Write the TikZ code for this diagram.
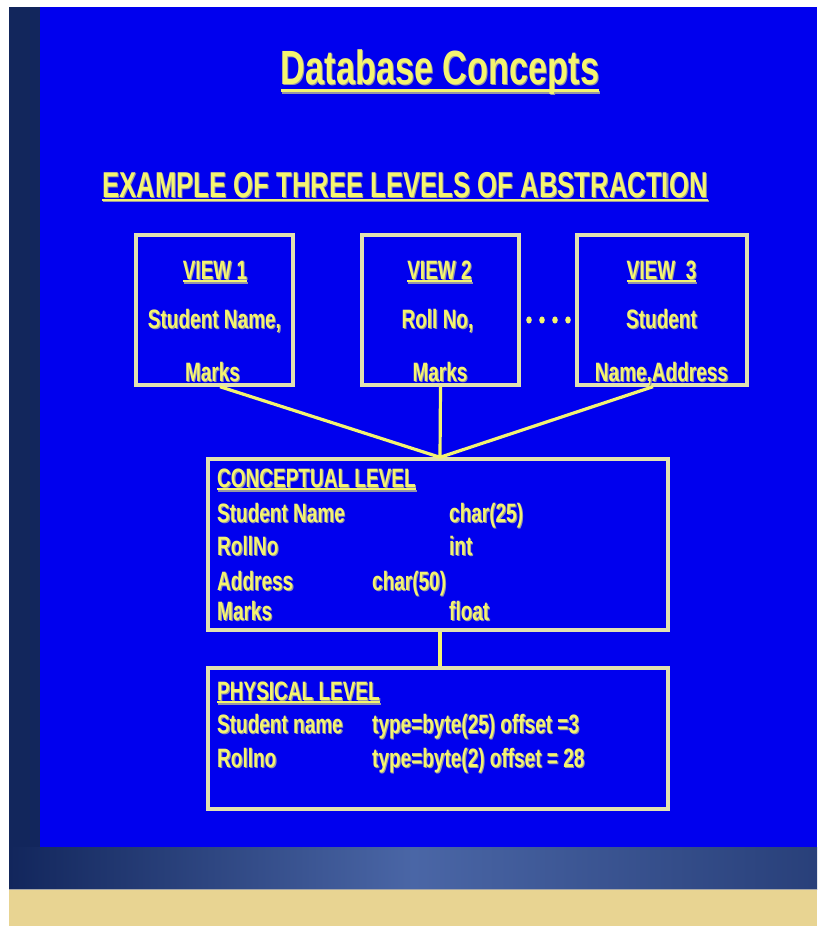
\documentclass[tikz,border=0pt]{standalone}
\usepackage{fontspec}
\setmainfont{Liberation Sans}
\usepackage{graphicx}

\definecolor{slide}{RGB}{0,0,238}
\definecolor{navy}{RGB}{18,38,92}
\definecolor{ink}{RGB}{244,244,112}
\definecolor{inkshade}{RGB}{150,150,165}
\definecolor{frame}{RGB}{226,226,176}
\definecolor{tan}{RGB}{232,212,146}
\definecolor{bandmid}{RGB}{74,102,166}

% slide text: stretched vertically, with a soft grey drop shadow
\newcommand{\tall}[1]{\scalebox{1}[1.4]{\rlap{\kern1.1pt\raisebox{-1.1pt}{\color{inkshade}#1}}#1}}
% underline: drop below baseline, rule thickness, text
\newsavebox{\ulbox}
\newcommand{\undl}[3]{\sbox{\ulbox}{#3}\rlap{\rule[-#1]{\wd\ulbox}{#2}}\usebox{\ulbox}}

\tikzset{
  txt/.style={text=ink, inner sep=0pt, font=\bfseries\fontsize{19}{22}\selectfont},
  lbox/.style={draw=frame, line width=3.4pt, inner sep=0pt},
  link/.style={draw=ink, line width=3.2pt},
  dot/.style={fill=ink, draw=none},
}

\begin{document}
\begin{tikzpicture}[x=1pt,y=-1pt]
  \useasboundingbox (0,0) rectangle (817,926);
  \fill[white] (0,0) rectangle (817,926);

  % slide background
  \fill[navy] (9,7) rectangle (40,889);
  \fill[slide] (40,7) rectangle (817,847);
  \shade[left color=navy, right color=navy!60!bandmid, middle color=bandmid]
    (9,847) rectangle (817,889);
  \fill[tan] (9,889) rectangle (817,926);
  \draw[gray!70, line width=1pt] (9,889) -- (817,889);

  % headings
  \node[txt, anchor=base, font=\bfseries\fontsize{34.3}{40}\selectfont] (title) at (440,84)
    {\tall{\undl{5.7pt}{1.8pt}{Database Concepts}}};
  \node[txt, anchor=base west, font=\bfseries\fontsize{25.7}{30}\selectfont] (sub) at (102,197)
    {\tall{\undl{2.6pt}{1.5pt}{EXAMPLE OF THREE LEVELS OF ABSTRACTION}}};

  % view boxes
  \node[lbox, minimum width=157pt, minimum height=150pt] (v1) at (214.5,310) {};
  \node[lbox, minimum width=157pt, minimum height=150pt] (v2) at (440.5,310) {};
  \node[lbox, minimum width=170pt, minimum height=150pt] (v3) at (662,310) {};

  \node[txt, anchor=base] (v1a) at (215,279) {\tall{\undl{2.2pt}{1.2pt}{VIEW 1}}};
  \node[txt, anchor=base] (v1b) at (214.5,328) {\tall{Student Name,}};
  \node[txt, anchor=base] (v1c) at (212.5,381) {\tall{Marks}};

  \node[txt, anchor=base] (v2a) at (439.5,279) {\tall{\undl{2.2pt}{1.2pt}{VIEW 2}}};
  \node[txt, anchor=base] (v2b) at (437.5,328) {\tall{Roll No,}};
  \node[txt, anchor=base] (v2c) at (440,381) {\tall{Marks}};

  \node[txt, anchor=base] (v3a) at (661.5,279) {\tall{\undl{2.2pt}{1.2pt}{VIEW\ \ 3}}};
  \node[txt, anchor=base] (v3b) at (661.5,328) {\tall{Student}};
  \node[txt, anchor=base] (v3c) at (661.5,381) {\tall{Name,Address}};

  % ellipsis between the second and third view
  \foreach \dx in {529,542,555,568}
    \fill[dot] (\dx,320) ellipse (2.8pt and 3.6pt);

  % conceptual level
  \node[lbox, minimum width=460pt, minimum height=171pt] (cl) at (438,544.5) {};
  \node[txt, anchor=base west] (clh) at (217,487) {\tall{\undl{2.2pt}{1.2pt}{CONCEPTUAL LEVEL}}};
  \node[txt, anchor=base west] (c1) at (217,522) {\tall{Student Name}};
  \node[txt, anchor=base west] (c1t) at (449,522) {\tall{char(25)}};
  \node[txt, anchor=base west] (c2) at (217,555) {\tall{RollNo}};
  \node[txt, anchor=base west] (c2t) at (449,555) {\tall{int}};
  \node[txt, anchor=base west] (c3) at (217,590) {\tall{Address}};
  \node[txt, anchor=base west] (c3t) at (372,590) {\tall{char(50)}};
  \node[txt, anchor=base west] (c4) at (217,620) {\tall{Marks}};
  \node[txt, anchor=base west] (c4t) at (449,620) {\tall{float}};

  % physical level
  \node[lbox, minimum width=460pt, minimum height=141pt] (pl) at (438,738.5) {};
  \node[txt, anchor=base west] (plh) at (217,700) {\tall{\undl{2.2pt}{1.2pt}{PHYSICAL LEVEL}}};
  \node[txt, anchor=base west] (p1) at (217,733) {\tall{Student name}};
  \node[txt, anchor=base west] (p1t) at (372,733) {\tall{type=byte(25) offset =3}};
  \node[txt, anchor=base west] (p2) at (217,767) {\tall{Rollno}};
  \node[txt, anchor=base west] (p2t) at (372,767) {\tall{type=byte(2) offset = 28}};

  % connectors
  \coordinate (hub) at ([xshift=2pt]cl.north);
  \draw[link] ([xshift=5.5pt]v1.south) -- (hub);
  \draw[link] (v2.south) -- (hub);
  \draw[link] ([xshift=-9pt]v3.south) -- (hub);
  \draw[link] ([xshift=2pt]cl.south) -- ([xshift=2pt]pl.north);
\end{tikzpicture}
\end{document}
